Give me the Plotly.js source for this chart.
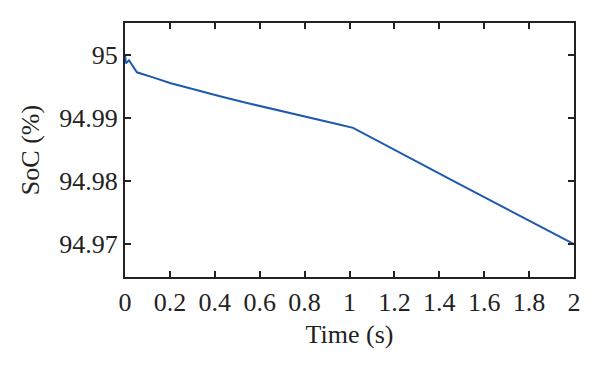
<!DOCTYPE html>
<html>
<head>
<meta charset="utf-8">
<script src="https://cdn.plot.ly/plotly-3.0.1.min.js"></script>
<style>html,body{margin:0;padding:0;background:#fff;}#chart{width:600px;height:372px;}</style>
</head>
<body>
<div id="chart"></div>
<script>
const timeS = [0, 0.004, 0.018, 0.053, 0.125, 0.2, 0.276, 0.347, 0.423, 0.548, 0.659, 0.811, 0.958, 1.016, 1.105, 1.483, 2.0];
const socPct = [95.0000, 94.99862, 94.9991, 94.9972, 94.9964, 94.9955, 94.9948, 94.9941, 94.9934, 94.9923, 94.9914, 94.9902, 94.9889, 94.9884, 94.9867, 94.9796, 94.9700];
const xTicks = [0, 0.2, 0.4, 0.6, 0.8, 1, 1.2, 1.4, 1.6, 1.8, 2];
const yTicks = [94.97, 94.98, 94.99, 95];
const yTickText = ['94.97', '94.98', '94.99', '95'];

const font = {family: 'Liberation Serif', size: 26, color: '#222'};

Plotly.newPlot('chart', [{
  x: timeS, y: socPct, type: 'scatter', mode: 'lines',
  line: {color: '#1f5aad', width: 2},
  hoverinfo: 'skip'
}], {
  width: 600, height: 372,
  margin: {l: 125, r: 26, t: 23, b: 95},
  paper_bgcolor: '#fff', plot_bgcolor: '#fff',
  font: font,
  showlegend: false,
  xaxis: {
    range: [0, 2], tickvals: xTicks, ticktext: xTicks.map(String),
    ticks: 'inside', ticklen: 6, tickwidth: 2, tickcolor: '#222',
    showline: true, linecolor: '#222', linewidth: 2, mirror: 'ticks',
    showgrid: false, zeroline: false,
    tickfont: font, ticklabelstandoff: 1,
    title: {text: 'Time (s)', font: font, standoff: 9}
  },
  yaxis: {
    range: [94.9648, 95.005], tickvals: yTicks, ticktext: yTickText,
    ticks: 'inside', ticklen: 6, tickwidth: 2, tickcolor: '#222',
    showline: true, linecolor: '#222', linewidth: 2, mirror: 'ticks',
    showgrid: false, zeroline: false,
    tickfont: font,
    title: {text: 'SoC (%)', font: font, standoff: 12}
  }
}, {displayModeBar: false, staticPlot: true});
</script>
</body>
</html>
